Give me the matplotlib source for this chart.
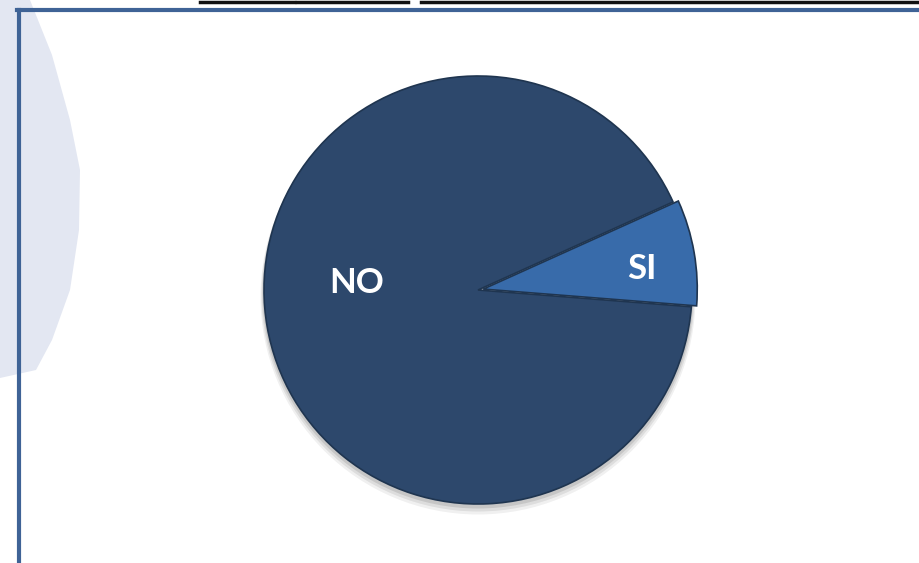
import matplotlib
matplotlib.use("Agg")
import matplotlib.pyplot as plt
from matplotlib.patches import Polygon, Circle
from matplotlib.lines import Line2D

# --- data ---
labels = ["SI", "NO"]
values = [8, 92]
colors = ["#386baa", "#2d486c"]

W, H = 920, 563
fig = plt.figure(figsize=(W / 100, H / 100), dpi=100)
fig.patch.set_facecolor("white")


def fx(x):
    return x / W


def fy(y):
    return 1 - y / H


# light backdrop shape on the left
crescent = [(0, 0), (30, 0), (52, 55), (70, 120), (80, 170), (79, 230),
            (70, 290), (52, 340), (36, 370), (0, 378)]
fig.patches.append(Polygon([(fx(x), fy(y)) for x, y in crescent], closed=True,
                           transform=fig.transFigure, facecolor="#e3e7f2",
                           edgecolor="none", zorder=0))

# frame
fig.add_artist(Line2D([fx(19), fx(19)], [fy(10), fy(563)], color="#3f6396", lw=3, zorder=1))
fig.add_artist(Line2D([fx(17), fx(920)], [fy(10), fy(10)], color="#3f6396", lw=3, zorder=1))
# dark bar on top edge
for x0, x1 in [(200, 294), (297, 408), (421, 920)]:
    fig.add_artist(Line2D([fx(x0), fx(x1)], [fy(1.5), fy(1.5)], color="#111111", lw=2.5, zorder=1))

# pie axes: center (478, 290), radius 214 px
cx, cy, r = 478, 290, 214
ax = fig.add_axes([fx(cx - r), fy(cy + r), 2 * r / W, 2 * r / H])

# soft shadow
for k, a in [(7, 0.06), (5, 0.08), (3, 0.10)]:
    ax.add_patch(Circle((0.0, -k / r), 1.0 + k / (2 * r), facecolor="#000000",
                        alpha=a, edgecolor="none", zorder=0, clip_on=False))

wedges, _ = ax.pie(values, colors=colors, startangle=-4.5, counterclock=True,
                   explode=[0.025, 0.0], radius=1.0,
                   wedgeprops=dict(edgecolor="#1f3550", linewidth=1.2))
for w in wedges:
    w.set_zorder(2)
    w.set_clip_on(False)

ax.set_xlim(-1, 1)
ax.set_ylim(-1, 1)
ax.set_aspect("equal")
ax.axis("off")

ax.text((357 - cx) / r, (cy - 283) / r, labels[1], color="white", fontsize=25,
        fontweight="bold", family=["Lato", "DejaVu Sans"], ha="center", va="center", zorder=3)
ax.text((642 - cx) / r, (cy - 269) / r, labels[0], color="white", fontsize=25,
        fontweight="bold", family=["Lato", "DejaVu Sans"], ha="center", va="center", zorder=3)

fig.savefig("out.png", dpi=100)
